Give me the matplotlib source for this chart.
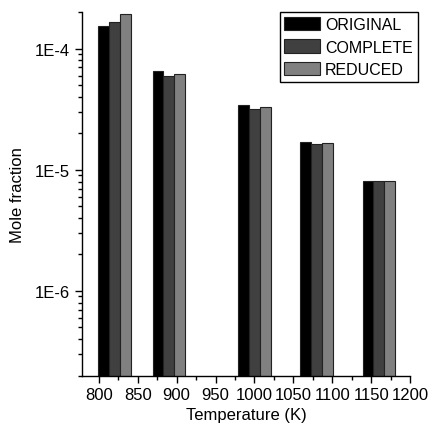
import numpy as np
import matplotlib
matplotlib.use('Agg')
import matplotlib.pyplot as plt
from matplotlib.ticker import LogLocator, MultipleLocator, FixedFormatter, FixedLocator

plt.rcParams['font.family'] = ['Liberation Sans', 'DejaVu Sans']

temps = [820, 890, 1000, 1080, 1160]
original = [1.55e-4, 6.6e-5, 3.46e-5, 1.69e-5, 8.1e-6]
complete = [1.66e-4, 6.0e-5, 3.18e-5, 1.64e-5, 8.1e-6]
reduced = [1.92e-4, 6.24e-5, 3.28e-5, 1.68e-5, 8.1e-6]
series_names = ['ORIGINAL', 'COMPLETE', 'REDUCED']
colors = ['#000000', '#404040', '#808080']

fig = plt.figure(figsize=(4.28, 4.27), dpi=100)
ax = fig.add_axes([0.191, 0.118, 0.767, 0.851])

w = 14
x = np.array(temps)
for i, (vals, name, c) in enumerate(zip([original, complete, reduced], series_names, colors)):
    ax.bar(x + (i - 1) * w, vals, width=w, color=c, edgecolor='#222222', linewidth=0.8, label=name)

ax.set_yscale('log')
ax.set_ylim(2e-7, 2e-4)
ax.set_xlim(778, 1200)

ax.xaxis.set_major_locator(MultipleLocator(50))
ax.xaxis.set_minor_locator(MultipleLocator(25))
ax.yaxis.set_major_locator(FixedLocator([1e-6, 1e-5, 1e-4]))
ax.yaxis.set_major_formatter(FixedFormatter(['1E-6', '1E-5', '1E-4']))
ax.yaxis.set_minor_locator(LogLocator(base=10, subs=np.arange(2, 10)))
ax.yaxis.set_minor_formatter(plt.NullFormatter())

for s in ['top', 'right']:
    ax.spines[s].set_visible(False)
for s in ['left', 'bottom']:
    ax.spines[s].set_linewidth(1.0)

ax.tick_params(which='major', direction='out', length=5, width=1, labelsize=12)
ax.tick_params(which='minor', direction='out', length=3, width=1)

ax.set_xlabel('Temperature (K)', fontsize=12, labelpad=3)
ax.set_ylabel('Mole fraction', fontsize=12, labelpad=7)

leg = ax.legend(loc='upper right', bbox_to_anchor=(417.7 / 428, 1 - 13.3 / 427),
                bbox_transform=fig.transFigure, fontsize=11.5, frameon=True, fancybox=False,
                edgecolor='black', framealpha=1, handlelength=2.25, handleheight=0.9,
                handletextpad=0.3, labelspacing=0.45, borderpad=0.3, borderaxespad=0)
leg.get_frame().set_linewidth(1.0)

fig.savefig('out.png', dpi=100)
